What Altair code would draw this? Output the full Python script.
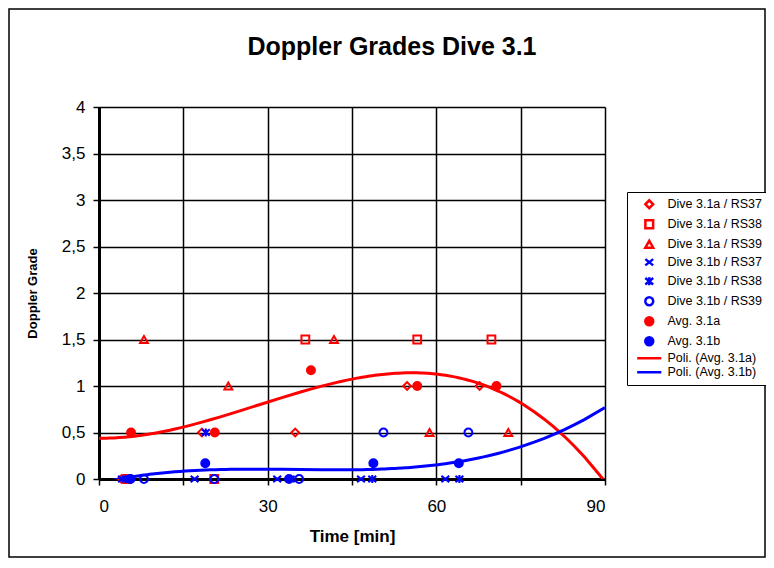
import altair as alt
import pandas as pd

RED = "#FF0000"
BLUE = "#0000FF"
FONT = "Liberation Sans"

TITLE = "Doppler Grades Dive 3.1"
X_TITLE = "Time [min]"
Y_TITLE = "Doppler Grade"

SERIES = [
    "Dive 3.1a / RS37", "Dive 3.1a / RS38", "Dive 3.1a / RS39",
    "Dive 3.1b / RS37", "Dive 3.1b / RS38", "Dive 3.1b / RS39",
    "Avg. 3.1a", "Avg. 3.1b",
    "Poli. (Avg. 3.1a)", "Poli. (Avg. 3.1b)",
]

# values (time in min, Doppler grade)
a37_t = [4.0, 18.3, 34.9, 54.8, 67.7]
a37_g = [0.0, 0.5, 0.5, 1.0, 1.0]
a38_t = [5.0, 20.5, 36.7, 56.6, 69.8]
a38_g = [0.0, 0.0, 1.5, 1.5, 1.5]
a39_t = [8.0, 23.0, 41.8, 58.8, 72.8]
a39_g = [1.5, 1.0, 1.5, 0.5, 0.5]
b37_t = [4.1, 17.0, 31.7, 46.6, 61.6]
b37_g = [0.0, 0.0, 0.0, 0.0, 0.0]
b38_t = [4.8, 19.0, 34.1, 48.6, 64.1]
b38_g = [0.0, 0.5, 0.0, 0.0, 0.0]
b39_t = [8.0, 20.5, 35.6, 50.6, 65.7]
b39_g = [0.0, 0.0, 0.0, 0.5, 0.5]
avg_a_t = [5.7, 20.6, 37.7, 56.6, 70.7]
avg_a_g = [0.5, 0.5, 1.17, 1.0, 1.0]
avg_b_t = [5.6, 18.9, 33.8, 48.8, 64.0]
avg_b_g = [0.0, 0.17, 0.0, 0.17, 0.17]

X_TICKS = [0, 15, 30, 45, 60, 75, 90]
Y_TICKS = [0, 0.5, 1, 1.5, 2, 2.5, 3, 3.5, 4]

groups = [
    (SERIES[0], a37_t, a37_g), (SERIES[1], a38_t, a38_g), (SERIES[2], a39_t, a39_g),
    (SERIES[3], b37_t, b37_g), (SERIES[4], b38_t, b38_g), (SERIES[5], b39_t, b39_g),
    (SERIES[6], avg_a_t, avg_a_g), (SERIES[7], avg_b_t, avg_b_g),
]
rows = []
for order, (name, ts, gs) in enumerate(groups):
    for t, g in zip(ts, gs):
        rows.append({"series": name, "time": t, "grade": g, "ord": order})
pts = pd.DataFrame(rows)
avg = pts[pts["series"].isin(["Avg. 3.1a", "Avg. 3.1b"])]

X_PATH = "M-1,-0.8L1,0.8M-1,0.8L1,-0.8"
AST_PATH = "M-1,-0.8L1,0.8M-1,0.8L1,-0.8M0,-1L0,1"
LINE_PATH = "M-3,0L3,0"

shape_range = ["diamond", "square", "triangle-up", X_PATH, AST_PATH, "circle",
               "circle", "circle", LINE_PATH, LINE_PATH]
stroke_range = [RED, RED, RED, BLUE, BLUE, BLUE, RED, BLUE, RED, BLUE]
fill_range = ["transparent"] * 6 + [RED, BLUE, "transparent", "transparent"]
size_range = [60, 65, 80, 110, 110, 70, 125, 125, 110, 110]

legend = alt.Legend(
    title=None, orient="none", legendX=528, legendY=85,
    labelFont=FONT, labelFontSize=12.5, labelColor="black",
    padding=6, strokeColor="black", fillColor="white",
    symbolStrokeWidth=2.5, rowPadding=1, labelOffset=12, symbolOffset=10,
)

x_enc = alt.X("time:Q", scale=alt.Scale(domain=[0, 90], nice=False, zero=False),
              axis=alt.Axis(values=X_TICKS, title=X_TITLE,
                            labelExpr="datum.value % 30 == 0 ? datum.label : ''",
                            labelFont=FONT, labelFontSize=17, labelColor="black",
                            labelPadding=13, tickSize=6, tickColor="black", tickWidth=1.5,
                            domainColor="black", domainWidth=3,
                            grid=True, gridColor="black", gridWidth=1.5,
                            titleFont=FONT, titleFontSize=17, titleFontWeight="bold",
                            titleColor="black", titlePadding=14))
y_enc = alt.Y("grade:Q", scale=alt.Scale(domain=[0, 4], nice=False),
              axis=alt.Axis(values=Y_TICKS, title=Y_TITLE,
                            labelExpr="replace(toString(datum.value), '.', ',')",
                            labelFont=FONT, labelFontSize=17, labelColor="black",
                            labelPadding=8, tickSize=6, tickColor="black", tickWidth=1.5,
                            domainColor="black", domainWidth=3,
                            grid=True, gridColor="black", gridWidth=1.5,
                            titleFont=FONT, titleFontSize=13, titleFontWeight="bold",
                            titleColor="black", titlePadding=22))

points = alt.Chart(pts).mark_point(strokeWidth=2, opacity=1).encode(
    x=x_enc, y=y_enc,
    shape=alt.Shape("series:N", scale=alt.Scale(domain=SERIES, range=shape_range), legend=legend),
    stroke=alt.Stroke("series:N", scale=alt.Scale(domain=SERIES, range=stroke_range), legend=legend),
    fill=alt.Fill("series:N", scale=alt.Scale(domain=SERIES, range=fill_range), legend=legend),
    size=alt.Size("series:N", scale=alt.Scale(domain=SERIES, range=size_range), legend=legend),
    order="ord:Q",
)

trend = alt.Chart(avg).transform_regression(
    "time", "grade", groupby=["series"], method="poly", order=3, extent=[0, 90]
).transform_calculate(
    series="'Poli. (' + datum.series + ')'"
).mark_line(strokeWidth=3, clip=True).encode(
    x="time:Q", y="grade:Q",
    stroke=alt.Stroke("series:N", scale=alt.Scale(domain=SERIES, range=stroke_range), legend=legend),
)

title = alt.Chart(pd.DataFrame({"t": [TITLE]})).mark_text(
    font=FONT, fontSize=25, fontWeight="bold", color="black",
    align="center", baseline="alphabetic",
).encode(text="t:N", x=alt.value(293), y=alt.value(-52))

frame = alt.Chart(pd.DataFrame({"k": [0]})).mark_rect(
    fill="transparent", stroke="black", strokeWidth=1.5
).encode(x=alt.value(-90), x2=alt.value(666), y=alt.value(-98), y2=alt.value(450))

chart = alt.layer(frame, points, trend, title).properties(
    width=506, height=372,
    autosize=alt.AutoSizeParams(type="none"),
    padding={"left": 91, "top": 99, "right": 161, "bottom": 79},
).configure_view(stroke="black", strokeWidth=2.5).configure(background="white")

chart.save("out.html", embed_options={"renderer": "svg", "actions": False})
